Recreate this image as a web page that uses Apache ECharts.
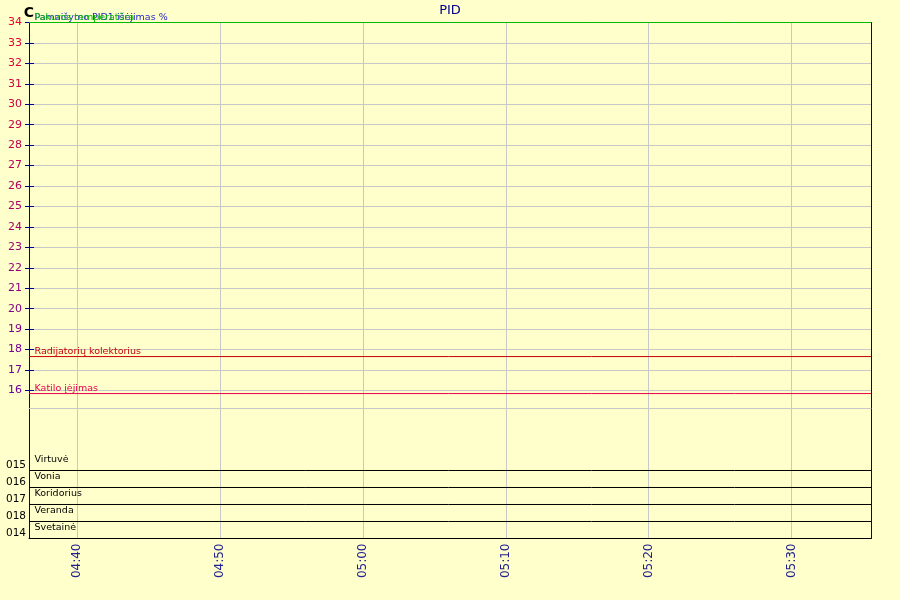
<!DOCTYPE html>
<html>
<head>
<meta charset="utf-8">
<script src="https://cdn.jsdelivr.net/npm/echarts@6/dist/echarts.min.js"></script>
<style>
html,body{margin:0;padding:0;background:#FFFFCC;}
#chart{width:900px;height:600px;}
</style>
</head>
<body>
<div id="chart"></div>
<script>
// ---- data ----
const times = ['04:36:37','04:46:00','04:56:00','05:06:00','05:16:00','05:26:00','05:35:34'];
const timeTicks = ['04:40','04:50','05:00','05:10','05:20','05:30'];
const tempTicks = [16,17,18,19,20,21,22,23,24,25,26,27,28,29,30,31,32,33,34];

const pakurosTemp   = [34, 34, 34, 34, 34, 34, 34];
const pid1Output    = [100, 100, 100, 100, 100, 100, 100];
const radiatorTemp  = [17.66, 17.66, 17.66, 17.66, 17.66, 17.66, 17.66];
const boilerInlet   = [15.85, 15.85, 15.85, 15.85, 15.85, 15.85, 15.85];

// room lanes, bottom to top
const laneNames = ['Svetainė','Veranda','Koridorius','Vonia','Virtuvė'];
const laneIds   = ['014','018','017','016','015'];
const svetaineState   = [0, 0, 0, 0, 0, 0, 0];
const verandaState    = [0, 0, 0, 0, 0, 0, 0];
const koridoriusState = [0, 0, 0, 0, 0, 0, 0];
const voniaState      = [0, 0, 0, 0, 0, 0, 0];
const virtuveState    = [0, 0, 0, 0, 0, 0, 0];
const laneStates = [svetaineState, verandaState, koridoriusState, voniaState, virtuveState];

// ---- helpers ----
function toMin(s){ const p = s.split(':').map(Number); return p[0]*60 + p[1] + (p[2]||0)/60; }
function fmtMin(v){ const h = Math.floor(v/60), m = Math.round(v - h*60); return String(h).padStart(2,'0') + ':' + String(m).padStart(2,'0'); }
const xs = times.map(toMin);
const xMin = xs[0], xMax = xs[xs.length-1];
const xTickVals = timeTicks.map(toMin);
function pairs(vals){ return vals.map((v,i)=>[xs[i], v]); }

const FONT = 'DejaVu Sans';
const NAVY = '#000088';
const GRID = '#c8c8c8';

function labelColor(v){
  const t = (34 - v) / 18;
  const r = Math.round(235 + (105-235)*t), g = 0, b = Math.round(40 + (160-40)*t);
  return 'rgb(' + r + ',' + g + ',' + b + ')';
}

function startLabel(name, x, y, color, dy){
  return {
    symbol: 'rect', symbolSize: 1, silent: true,
    itemStyle: {color: 'rgba(0,0,0,0)'},
    label: {show: true, position: 'right', distance: 5, offset: [0, dy],
            formatter: name, color: color, fontFamily: FONT, fontSize: 9.5},
    data: [{coord: [x, y]}]
  };
}

function lineSeries(name, vals, color, xi, yi, dy){
  return {
    name: name, type: 'line', xAxisIndex: xi, yAxisIndex: yi,
    data: pairs(vals), symbol: 'none', clip: false,
    lineStyle: {color: color, width: 1}, itemStyle: {color: color},
    animation: false,
    markPoint: startLabel(name, xs[0], vals[0], color, dy)
  };
}

const series = [
  lineSeries('Pamaišymo PID1 išėjimas %', pid1Output, '#2828C8', 0, 3, -5),
  lineSeries('Pakuros temperatūra', pakurosTemp, '#00BB00', 0, 0, -5),
  lineSeries('Radijatorių kolektorius', radiatorTemp, '#C80000', 0, 0, -5),
  lineSeries('Katilo įėjimas', boilerInlet, '#E6004C', 0, 0, -5)
];
laneNames.forEach((n, k) => {
  const vals = laneStates[k].map(s => k + s * 0.8);
  series.push(lineSeries(n, vals, '#000000', 1, 4, -11));
});

const chart = echarts.init(document.getElementById('chart'), null, {renderer: 'canvas'});
chart.setOption({
  backgroundColor: '#FFFFCC',
  animation: false,
  title: {text: 'PID', left: 'center', top: 4, padding: 0,
          textStyle: {color: NAVY, fontFamily: FONT, fontSize: 13, fontWeight: 'normal'}},
  grid: [
    {left: 29, right: 29, top: 22.5, height: 386},
    {left: 29, right: 29, top: 408.5, height: 130}
  ],
  xAxis: [
    {gridIndex: 0, type: 'value', min: xMin, max: xMax, position: 'bottom',
     axisLine: {show: true, onZero: false, lineStyle: {color: GRID}},
     axisTick: {show: false, customValues: xTickVals},
     axisLabel: {show: false, customValues: xTickVals},
     splitLine: {show: true, lineStyle: {color: GRID, width: 1}}},
    {gridIndex: 1, type: 'value', min: xMin, max: xMax, position: 'bottom',
     axisLine: {show: true, onZero: false, lineStyle: {color: '#000000'}},
     axisTick: {show: false, customValues: xTickVals},
     axisLabel: {show: true, customValues: xTickVals, rotate: 90, margin: 5,
                 color: '#202090', fontFamily: FONT, fontSize: 12, formatter: fmtMin},
     splitLine: {show: true, lineStyle: {color: GRID, width: 1}}}
  ],
  yAxis: [
    {gridIndex: 0, type: 'value', min: 15.12, max: 34, position: 'left',
     name: 'C', nameLocation: 'end', nameGap: 16, nameMoveOverlap: false,
     nameTextStyle: {color: '#000', fontFamily: FONT, fontSize: 14, fontWeight: 'bold',
                     align: 'center', verticalAlign: 'top'},
     axisLine: {show: true, onZero: false, lineStyle: {color: NAVY}},
     axisTick: {show: true, inside: false, length: 4, customValues: tempTicks, lineStyle: {color: NAVY}},
     axisLabel: {show: true, customValues: tempTicks, margin: 7, color: labelColor,
                 fontFamily: FONT, fontSize: 11},
     splitLine: {show: true, lineStyle: {color: GRID, width: 1}}},
    {gridIndex: 0, type: 'value', min: 15.12, max: 34, position: 'left',
     axisLine: {show: false},
     axisTick: {show: true, inside: true, length: 5, customValues: tempTicks, lineStyle: {color: NAVY}},
     axisLabel: {show: false}, splitLine: {show: false}},
    {gridIndex: 0, type: 'value', min: 15.12, max: 34, position: 'right',
     axisLine: {show: true, onZero: false, lineStyle: {color: NAVY}},
     axisTick: {show: false}, axisLabel: {show: false}, splitLine: {show: false}},
    {gridIndex: 0, type: 'value', min: 0, max: 100, position: 'right', show: false},
    {gridIndex: 1, type: 'value', min: 0, max: 7.647, position: 'left',
     axisLine: {show: true, onZero: false, lineStyle: {color: NAVY}},
     axisTick: {show: false, customValues: [0,1,2,3,4]},
     axisLabel: {show: true, customValues: [0,1,2,3,4], margin: 3, verticalAlign: 'bottom',
                 color: '#000', fontFamily: FONT, fontSize: 10.5,
                 formatter: v => laneIds[Math.round(v)]},
     splitLine: {show: false}},
    {gridIndex: 1, type: 'value', min: 0, max: 7.647, position: 'right',
     axisLine: {show: true, onZero: false, lineStyle: {color: NAVY}},
     axisTick: {show: false}, axisLabel: {show: false}, splitLine: {show: false}}
  ],
  series: series
});
</script>
</body>
</html>
